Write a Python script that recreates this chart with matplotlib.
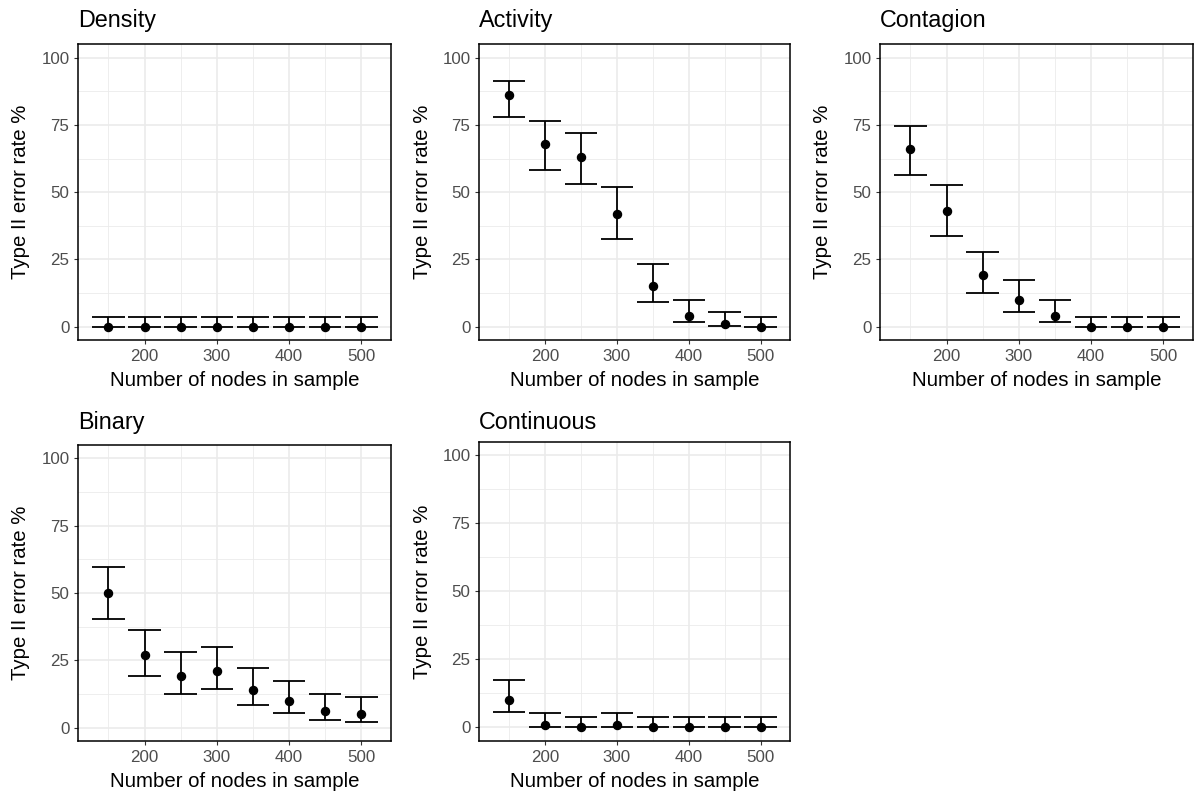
import matplotlib
matplotlib.use("Agg")
import matplotlib.pyplot as plt
import numpy as np

plt.rcParams['font.family'] = ['Liberation Sans', 'DejaVu Sans']

nodes = [150, 200, 250, 300, 350, 400, 450, 500]

titles = ["Density", "Activity", "Contagion", "Binary", "Continuous"]

density_rate = [0, 0, 0, 0, 0, 0, 0, 0]
density_lo = [0, 0, 0, 0, 0, 0, 0, 0]
density_hi = [3.7, 3.7, 3.7, 3.7, 3.7, 3.7, 3.7, 3.7]

activity_rate = [86, 68, 63, 42, 15, 4, 1, 0]
activity_lo = [77.8, 58.3, 53.0, 32.6, 9.3, 1.6, 0.2, 0]
activity_hi = [91.5, 76.4, 72.0, 51.8, 23.4, 9.9, 5.4, 3.7]

contagion_rate = [66, 43, 19, 10, 4, 0, 0, 0]
contagion_lo = [56.3, 33.8, 12.5, 5.5, 1.6, 0, 0, 0]
contagion_hi = [74.5, 52.8, 27.9, 17.4, 9.9, 3.7, 3.7, 3.7]

binary_rate = [50, 27, 19, 21, 14, 10, 6, 5]
binary_lo = [40.4, 19.3, 12.5, 14.2, 8.5, 5.5, 2.8, 2.2]
binary_hi = [59.6, 36.4, 27.9, 29.8, 22.1, 17.4, 12.5, 11.2]

continuous_rate = [10, 1, 0, 1, 0, 0, 0, 0]
continuous_lo = [5.5, 0.2, 0, 0.2, 0, 0, 0, 0]
continuous_hi = [17.4, 5.4, 3.7, 5.4, 3.7, 3.7, 3.7, 3.7]

series = [
    (density_rate, density_lo, density_hi),
    (activity_rate, activity_lo, activity_hi),
    (contagion_rate, contagion_lo, contagion_hi),
    (binary_rate, binary_lo, binary_hi),
    (continuous_rate, continuous_lo, continuous_hi),
]

x_ticks = [200, 300, 400, 500]
y_ticks = [0, 25, 50, 75, 100]

W, H = 1198, 795
fig = plt.figure(figsize=(W / 100, H / 100), dpi=100)

# panel boxes in pixels: (left, top, right, bottom, title baseline, xlabel baseline)
boxes = [
    (78, 44.3, 391, 340, 27, 386),
    (479, 44.3, 790, 340, 27, 386),
    (880, 44.3, 1193, 340, 27, 386),
    (78, 445, 391, 741, 429, 787),
    (479, 441.7, 790, 741, 429, 787),
]

cap_half = 22.5
for (l, t, r, b, tb, xb), title, (rate, lo, hi) in zip(boxes, titles, series):
    ax = fig.add_axes([l / W, 1 - b / H, (r - l) / W, (b - t) / H])
    ax.set_xlim(108, 541)
    ax.set_ylim(-5, 105)
    ax.set_xticks(x_ticks)
    ax.set_yticks(y_ticks)
    ax.set_xticks([150, 250, 350, 450], minor=True)
    ax.set_yticks([12.5, 37.5, 62.5, 87.5], minor=True)
    ax.grid(True, which='major', color='#EBEBEB', linewidth=1.2)
    ax.grid(True, which='minor', color='#EBEBEB', linewidth=0.6)
    ax.set_axisbelow(True)
    ax.tick_params(which='minor', length=0)
    ax.tick_params(which='major', length=3.2, width=0.8, color='#333333',
                   labelcolor='#4D4D4D', labelsize=12.2, pad=3.0)
    for s in ax.spines.values():
        s.set_color('black')
        s.set_linewidth(1.1)

    xs = np.array(nodes, dtype=float)
    ax.vlines(xs, lo, hi, color='black', linewidth=1.3, zorder=3)
    ax.hlines(lo, xs - cap_half, xs + cap_half, color='black', linewidth=1.3, zorder=3)
    ax.hlines(hi, xs - cap_half, xs + cap_half, color='black', linewidth=1.3, zorder=3)
    ax.plot(xs, rate, 'o', color='black', markersize=5.8, zorder=4)

    fig.text((l + r) / 2 / W, 1 - xb / H, "Number of nodes in sample",
             fontsize=14.7, ha='center', va='baseline', color='black')
    fig.text((l - 57) / W, 1 - (t + b) / 2 / H, "Type II error rate %",
             fontsize=14.7, ha='center', va='center', rotation=90, color='black')
    fig.text(l / W, 1 - tb / H, title, fontsize=16.8, ha='left', va='baseline', color='black')

fig.savefig("out.png", dpi=100, facecolor='white')
